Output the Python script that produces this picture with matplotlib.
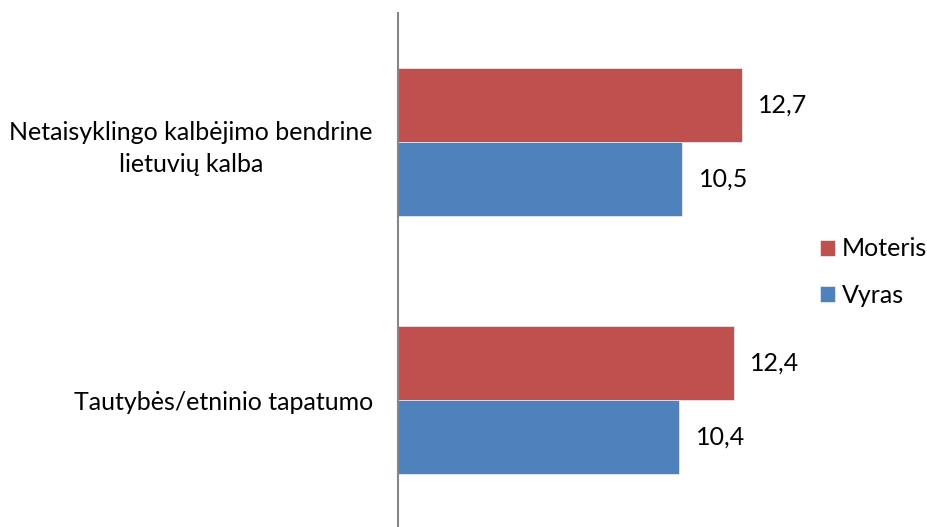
import matplotlib

matplotlib.use("Agg")
import matplotlib.pyplot as plt
import numpy as np

# values
categories = ["Netaisyklingo kalbėjimo bendrine\nlietuvių kalba", "Tautybės/etninio tapatumo"]
series_names = ["Moteris", "Vyras"]
moteris = [12.7, 12.4]
vyras = [10.5, 10.4]

RED = "#C0504D"
BLUE = "#4F81BD"
FONT = ["Lato", "DejaVu Sans"]
SIZE = 18

plt.rcParams["font.family"] = FONT


def fmt(values):
    return [f"{v:.1f}".replace(".", ",") for v in values]


fig = plt.figure(figsize=(9.28, 5.27), dpi=100)
ax = fig.add_axes([398 / 928, (527 - 529) / 527, (804 - 398) / 928, 516 / 527])

pos = np.arange(len(categories))
h = 0.287
bars_m = ax.barh(pos - h / 2, moteris, height=h, color=RED, edgecolor="white", linewidth=0.4, label=series_names[0])
bars_v = ax.barh(pos + h / 2, vyras, height=h, color=BLUE, edgecolor="white", linewidth=0.4, label=series_names[1])

ax.bar_label(bars_m, labels=fmt(moteris), padding=12, fontsize=SIZE, color="black")
ax.bar_label(bars_v, labels=fmt(vyras), padding=12, fontsize=SIZE, color="black")

ax.set_xlim(0, 15)
ax.set_ylim(len(categories) - 0.5, -0.5)
ax.set_yticks(pos)
ax.set_yticklabels(categories, fontsize=SIZE, multialignment="center", linespacing=1.45)
ax.tick_params(axis="y", length=0, pad=18)
ax.set_xticks([])

for side in ("top", "right", "bottom"):
    ax.spines[side].set_visible(False)
ax.spines["left"].set_color("#868686")
ax.spines["left"].set_linewidth(1.5)

fig.legend(
    loc="center left",
    bbox_to_anchor=(820 / 928, 1 - 272 / 527),
    frameon=False,
    fontsize=SIZE,
    handlelength=0.6,
    handleheight=0.6,
    handletextpad=0.28,
    labelspacing=0.93,
    borderpad=0,
    borderaxespad=0,
)

fig.savefig("out.png", dpi=100)
